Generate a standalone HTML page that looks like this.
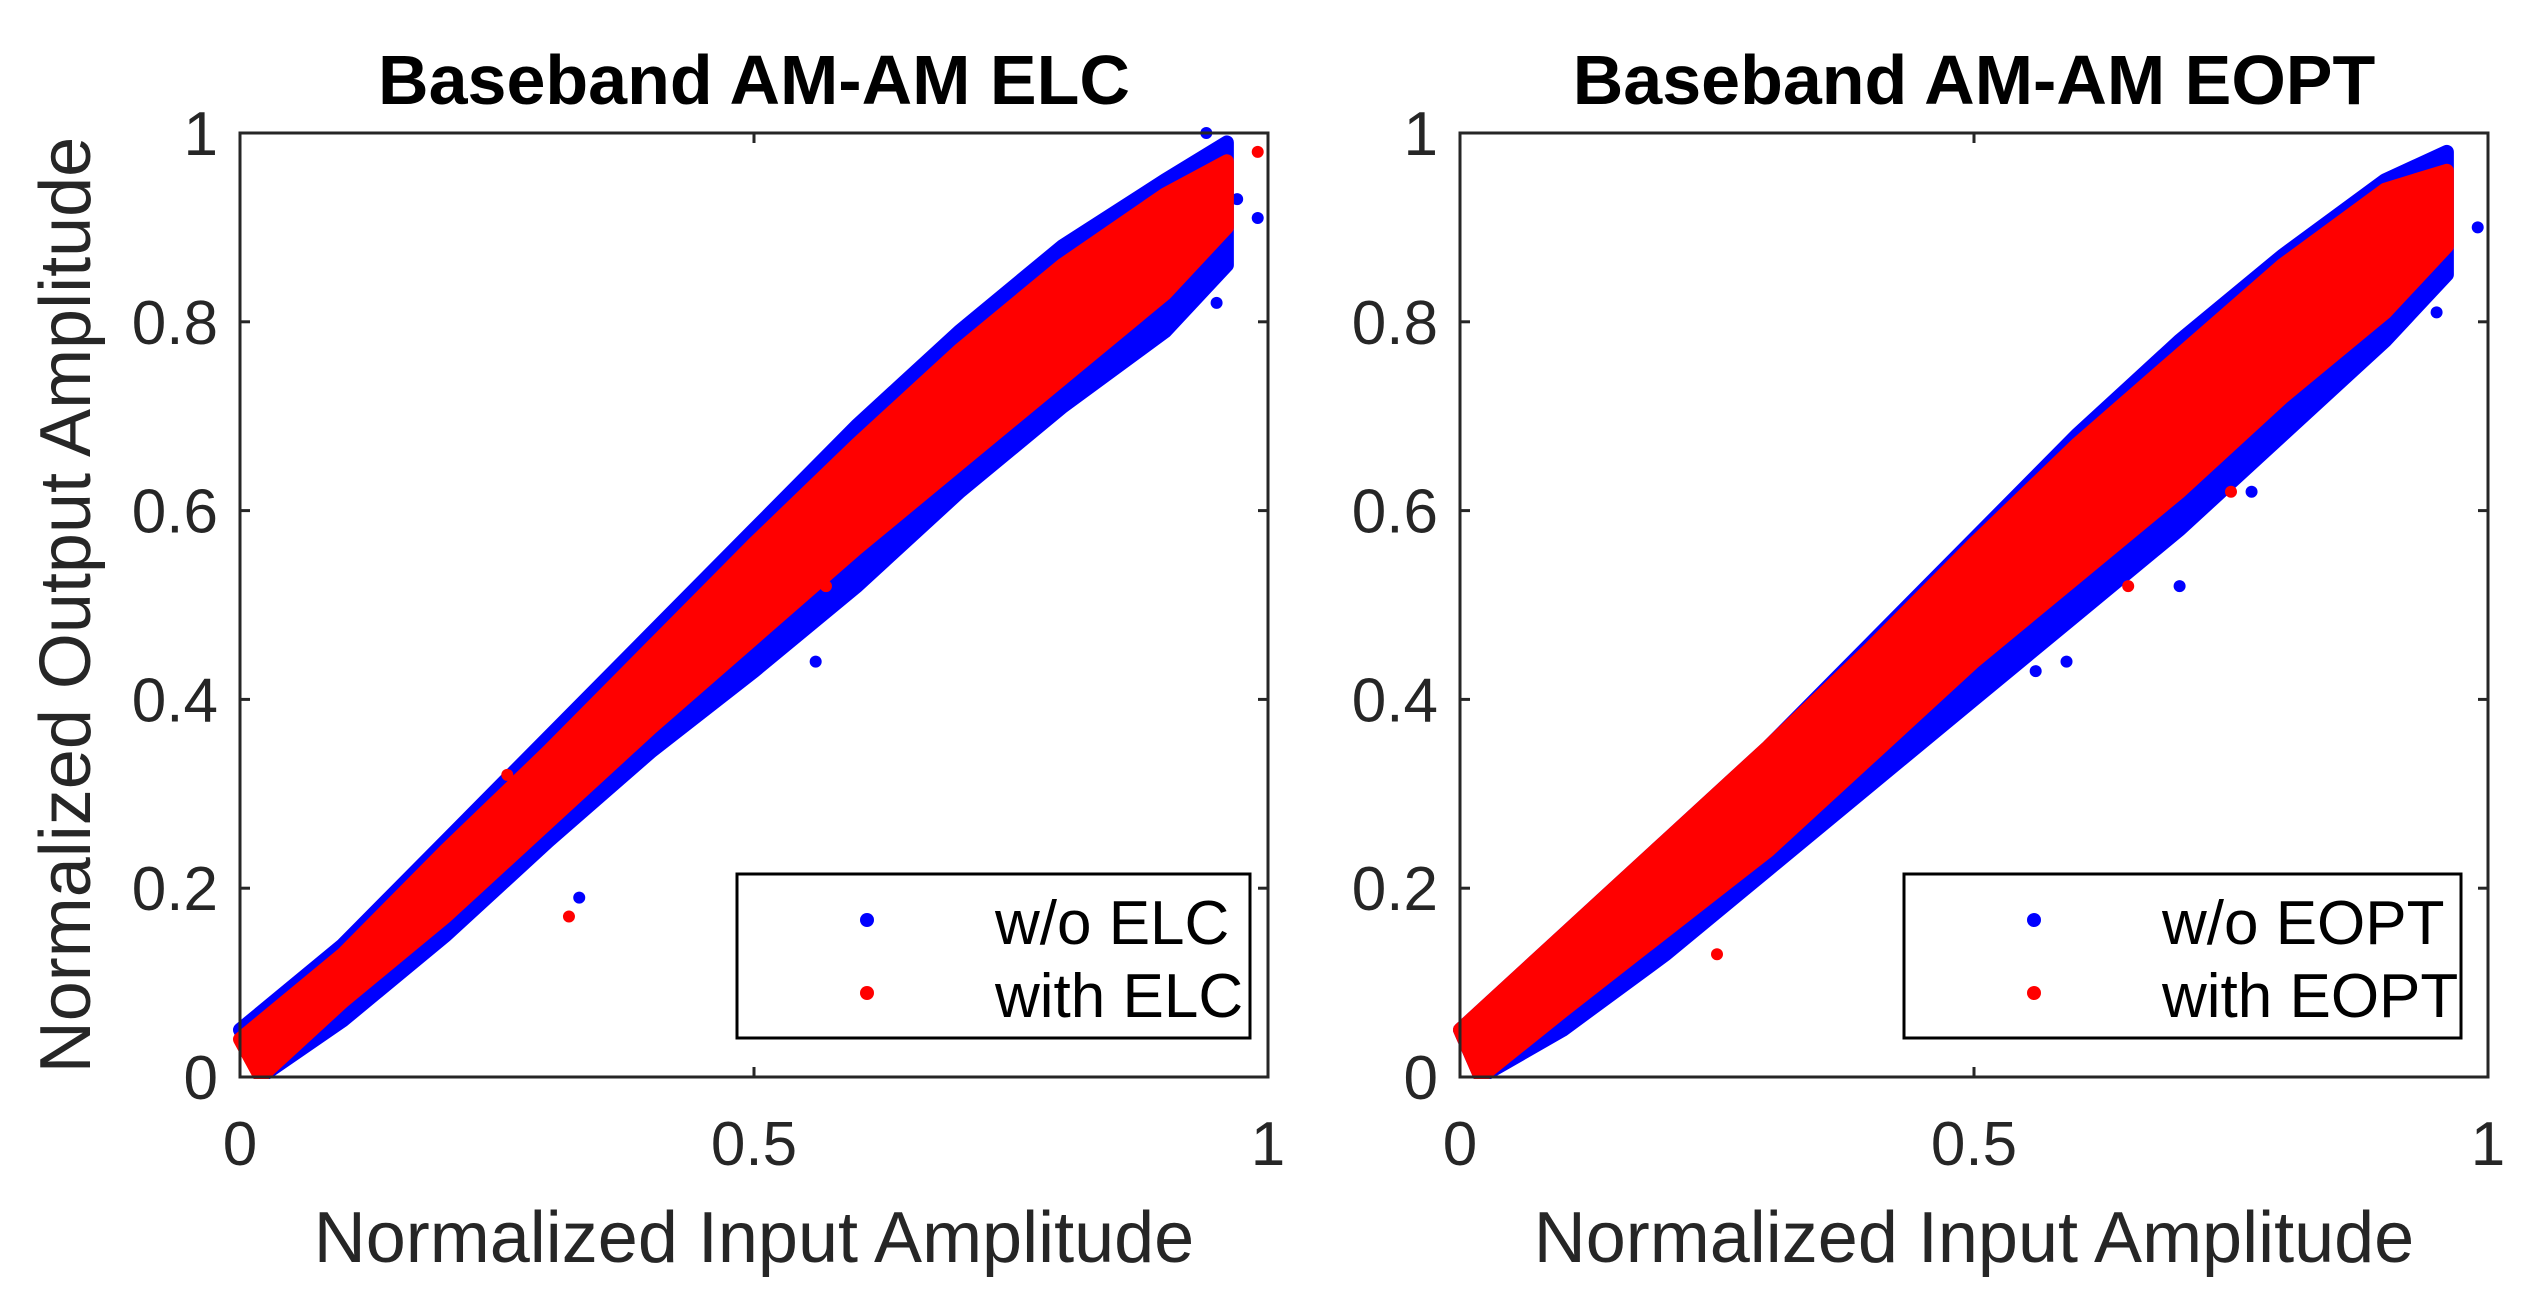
<!DOCTYPE html>
<html><head><meta charset="utf-8"><style>
html,body{margin:0;padding:0;background:#fff;}
svg{display:block;font-family:"Liberation Sans",Arial,sans-serif;}
</style></head><body>
<svg id="fig" width="2541" height="1314" viewBox="0 0 2541 1314" xmlns="http://www.w3.org/2000/svg"></svg>
<script>
// shared x grid for band envelopes
const xs = [0,0.1,0.2,0.3,0.4,0.5,0.6,0.7,0.8,0.9,0.96];
// left panel (ELC)
const elcBlueUpper = [0.05,0.14,0.25,0.36,0.47,0.58,0.69,0.79,0.88,0.95,0.99];
const elcBlueLower = [0,0.06,0.15,0.25,0.345,0.43,0.52,0.62,0.71,0.79,0.86];
const elcRedUpper  = [0.04,0.13,0.24,0.345,0.455,0.565,0.67,0.77,0.86,0.935,0.97];
const elcRedLower  = [0,0.08,0.17,0.27,0.37,0.465,0.56,0.65,0.74,0.83,0.9];
const elcBlueOutX = [0.33,0.34,0.59,0.63,0.65,0.94,0.97,0.99,0.95,0.88,0.56];
const elcBlueOutY = [0.19,0.4,0.53,0.55,0.58,1.0,0.93,0.91,0.82,0.84,0.44];
const elcRedOutX = [0.26,0.32,0.57,0.99,0.96];
const elcRedOutY = [0.32,0.17,0.52,0.98,0.95];
// right panel (EOPT)
const eoptBlueUpper = [0.05,0.15,0.25,0.35,0.46,0.57,0.68,0.78,0.87,0.95,0.98];
const eoptBlueLower = [0,0.05,0.13,0.22,0.31,0.40,0.49,0.58,0.68,0.78,0.85];
const eoptRedUpper  = [0.05,0.15,0.25,0.35,0.455,0.565,0.67,0.765,0.86,0.94,0.96];
const eoptRedLower  = [0,0.07,0.155,0.24,0.34,0.44,0.53,0.62,0.72,0.81,0.88];
const eoptBlueOutX = [0.56,0.59,0.70,0.77,0.95,0.99,0.93,0.88];
const eoptBlueOutY = [0.43,0.44,0.52,0.62,0.81,0.90,0.85,0.78];
const eoptRedOutX = [0.25,0.75,0.92,0.65];
const eoptRedOutY = [0.13,0.62,0.84,0.52];
const xTicks = [0,0.5,1];
const xTickLabels = ["0","0.5","1"];
const yTicks = [0,0.2,0.4,0.6,0.8,1];
const yTickLabels = ["0","0.2","0.4","0.6","0.8","1"];

const NS="http://www.w3.org/2000/svg";
const svg=document.getElementById('fig');
function mk(tag,attrs,parent){const e=document.createElementNS(NS,tag);for(const k in attrs)e.setAttribute(k,attrs[k]);(parent||svg).appendChild(e);return e;}

function panel(o){
  const g=mk('g',{});
  
  
  const X=v=>o.x0+v*(o.x1-o.x0), Y=v=>o.y1-v*(o.y1-o.y0);
  const clipId=o.name+'-clip';
  const cp=mk('clipPath',{id:clipId},g);
  mk('rect',{x:o.x0-20,y:o.y0-20,width:o.x1-o.x0+40,height:o.y1-o.y0+22},cp);
  const dg=mk('g',{'clip-path':'url(#'+clipId+')'},g);
  function band(up,lo,color,name){
    let pts=[];
    for(let i=0;i<xs.length;i++)pts.push(X(xs[i])+','+Y(up[i]));
    for(let i=xs.length-1;i>=0;i--)pts.push(X(xs[i]+(i==0?0.02:0))+','+Y(lo[i]));
    const p=mk('polygon',{points:pts.join(' '),fill:color,stroke:color,'stroke-width':14,'stroke-linejoin':'round'},dg);
    
    
  }
  function outs(xa,ya,color,name){
    for(let i=0;i<xa.length;i++){
      const c=mk('circle',{cx:X(xa[i]),cy:Y(ya[i]),r:6,fill:color},dg);
      
      
    }
  }
  band(o.bu,o.bl,'#0000ff','blue-series-band');
  outs(o.box,o.boy,'#0000ff','blue-outlier');
  band(o.ru,o.rl,'#ff0000','red-series-band');
  outs(o.rox,o.roy,'#ff0000','red-outlier');
  const fr=mk('rect',{x:o.x0,y:o.y0,width:o.x1-o.x0,height:o.y1-o.y0,fill:'none',stroke:'#262626','stroke-width':3},g);
  
  
  xTicks.forEach((v,i)=>{
    mk('line',{x1:X(v),x2:X(v),y1:o.y1,y2:o.y1-10,stroke:'#262626','stroke-width':3},g);
    mk('line',{x1:X(v),x2:X(v),y1:o.y0,y2:o.y0+10,stroke:'#262626','stroke-width':3},g);
    const t=mk('text',{x:X(v),y:o.y1+88,'font-size':62,fill:'#262626','text-anchor':'middle'},g);
    t.textContent=xTickLabels[i];
    
    
  });
  yTicks.forEach((v,i)=>{
    mk('line',{x1:o.x0,x2:o.x0+10,y1:Y(v),y2:Y(v),stroke:'#262626','stroke-width':3},g);
    mk('line',{x1:o.x1,x2:o.x1-10,y1:Y(v),y2:Y(v),stroke:'#262626','stroke-width':3},g);
    const t=mk('text',{x:o.x0-22,y:Y(v)+22,'font-size':62,fill:'#262626','text-anchor':'end'},g);
    t.textContent=yTickLabels[i];
    
    
  });
  const tt=mk('text',{x:(o.x0+o.x1)/2,y:104,'font-size':70,'font-weight':'bold',fill:'#000','text-anchor':'middle'},g);
  tt.textContent=o.title;
  
  
  const xl=mk('text',{x:(o.x0+o.x1)/2,y:1262,'font-size':72,fill:'#262626','text-anchor':'middle'},g);
  xl.textContent='Normalized Input Amplitude';
  
  
  if(o.ylabel){
    const yl=mk('text',{x:0,y:0,'font-size':72,fill:'#262626','text-anchor':'middle',transform:'translate(90,'+((o.y0+o.y1)/2)+') rotate(-90)'},g);
    yl.textContent='Normalized Output Amplitude';
    
    
  }
  const lg=mk('g',{},g);
  
  
  mk('rect',{x:o.lx0,y:874,width:o.lx1-o.lx0,height:164,fill:'#fff',stroke:'#000','stroke-width':3},lg);
  [[o.l1,'#0000ff',926],[o.l2,'#ff0000',999]].forEach(([txt,c,yy])=>{
    const m=mk('circle',{cx:o.lx0+130,cy:yy-6,r:7,fill:c},lg);
    
    
    const t=mk('text',{x:o.lx0+258,y:yy+18,'font-size':62,fill:'#000'},lg);
    t.textContent=txt;
    
    
  });
}
panel({name:'elc-panel',x0:240,x1:1268,y0:133,y1:1077,title:'Baseband AM-AM ELC',ylabel:true,
  bu:elcBlueUpper,bl:elcBlueLower,ru:elcRedUpper,rl:elcRedLower,box:elcBlueOutX,boy:elcBlueOutY,rox:elcRedOutX,roy:elcRedOutY,
  lx0:737,lx1:1250,l1:'w/o ELC',l2:'with ELC'});
panel({name:'eopt-panel',x0:1460,x1:2488,y0:133,y1:1077,title:'Baseband AM-AM EOPT',ylabel:false,
  bu:eoptBlueUpper,bl:eoptBlueLower,ru:eoptRedUpper,rl:eoptRedLower,box:eoptBlueOutX,boy:eoptBlueOutY,rox:eoptRedOutX,roy:eoptRedOutY,
  lx0:1904,lx1:2461,l1:'w/o EOPT',l2:'with EOPT'});
</script>
</body></html>
